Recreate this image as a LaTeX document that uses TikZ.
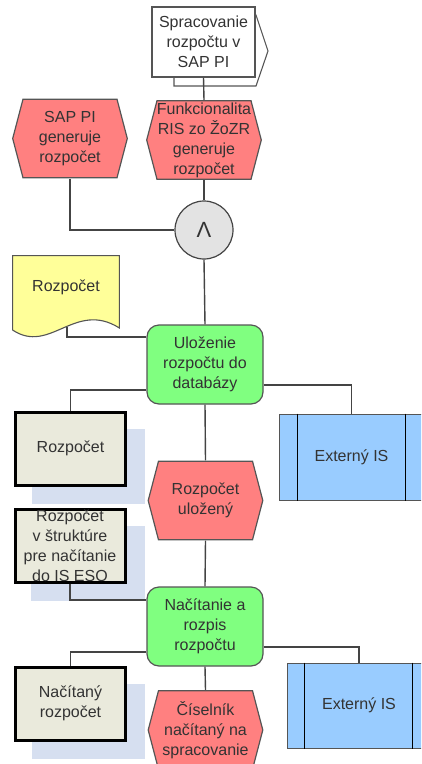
\documentclass[tikz,border=0pt]{standalone}
\usepackage{fontspec}
\setmainfont{Liberation Sans}
\usetikzlibrary{shadows,calc}
\definecolor{linec}{HTML}{444444}
\definecolor{txtc}{HTML}{333333}
\definecolor{hexred}{HTML}{FF8080}
\definecolor{hexb}{HTML}{555555}
\definecolor{greenc}{HTML}{80FF80}
\definecolor{yellowc}{HTML}{FFFF99}
\definecolor{bluec}{HTML}{99CCFF}
\definecolor{boxc}{HTML}{EAEADC}
\definecolor{shadowc}{HTML}{D6DFF0}
\definecolor{circc}{HTML}{E3E3E3}
\begin{document}
\begin{tikzpicture}[x=1pt,y=-1pt,
  font=\fontsize{16}{20}\selectfont,
  every node/.style={text=txtc, align=center, inner sep=0pt},
  conn/.style={draw=linec, line width=1.4pt},
  hexa/.style={minimum width=116pt, minimum height=80pt,
    path picture={\draw[draw=hexb, fill=hexred, line width=1.2pt]
      ([xshift=11pt,yshift=-0.7pt]path picture bounding box.north west) --
      ([xshift=-11pt,yshift=-0.7pt]path picture bounding box.north east) --
      ([xshift=-0.7pt]path picture bounding box.east) --
      ([xshift=-11pt,yshift=0.7pt]path picture bounding box.south east) --
      ([xshift=11pt,yshift=0.7pt]path picture bounding box.south west) --
      ([xshift=0.7pt]path picture bounding box.west) -- cycle;}},
  funcbox/.style={draw=hexb, fill=greenc, line width=1.2pt, rounded corners=12pt,
    minimum width=116pt, minimum height=79pt},
  infobox/.style={draw=black, fill=boxc, line width=3pt,
    minimum width=110pt, minimum height=73pt,
    drop shadow={shadow xshift=17.5pt, shadow yshift=-17.5pt, shadow scale=1.03, fill=shadowc, opacity=1}},
  extbox/.style={draw=hexb, fill=bluec, line width=1pt},
  extline/.style={draw=black, line width=1pt},
  ifcshape/.style={draw=hexb, fill=white, line width=1.1pt},
  docshape/.style={draw=hexb, fill=yellowc, line width=1.1pt}
]
\useasboundingbox (0,0) rectangle (421,764);
\clip (0,0) rectangle (421,764);

% process interface
\draw[ifcshape] (174,15) -- (256,15) -- (268,51) -- (256,86) -- (174,86) -- cycle;
\node[ifcshape, minimum width=103pt, minimum height=70pt] (ifc) at (203.5,42) {Spracovanie\\rozpočtu v\\SAP PI};

% events
\node[hexa] (h1) at (70,138.5) {SAP PI\\generuje\\rozpočet};
\node[hexa] (h2) at (204,140) {Funkcionalita\\RIS zo ŽoZR\\generuje\\rozpočet};

% AND
\node[circle, draw=linec, fill=circc, line width=1.2pt, minimum size=58pt] (and) at (204,230) {\fontsize{22}{22}\selectfont Λ};

% document
\draw[docshape] (12.6,255.6) -- (119.4,255.6) -- (119.4,328) .. controls (75,300) and (50,355) .. (12.6,330) -- cycle;
\node (doc) at (66,287) {Rozpočet};
\coordinate (docw) at (67,327);

% function 1
\node[funcbox] (g1) at (205,364.5) {Uloženie\\rozpočtu do\\databázy};

% info boxes
\node[infobox] (b1) at (70.5,448.5) {Rozpočet};
\node[infobox] (b2) at (70,545.5) {Rozpočet\\v štruktúre\\pre načítanie\\do IS ESO};
\node[infobox] (b3) at (70.5,703.5) {Načítaný\\rozpočet};

% external systems
\node[extbox, minimum width=145pt, minimum height=86pt] (e1) at (351.5,457) {Externý IS};
\draw[extline] ([xshift=19pt]e1.north west) -- ([xshift=19pt]e1.south west);
\draw[extline] ([xshift=-19pt]e1.north east) -- ([xshift=-19pt]e1.south east);
\node[extbox, minimum width=144pt, minimum height=85pt] (e2) at (359,705.5) {Externý IS};
\draw[extline] ([xshift=18pt]e2.north west) -- ([xshift=18pt]e2.south west);
\draw[extline] ([xshift=-19pt]e2.north east) -- ([xshift=-19pt]e2.south east);

% events 2
\node[hexa] (h3) at (205.5,500.5) {Rozpočet\\uložený};
\node[funcbox] (g2) at (205,626.5) {Načítanie a\\rozpis\\rozpočtu};
\node[hexa] (h4) at (205.5,730) {Číselník\\načítaný na\\spracovanie};

% connectors
\draw[conn] (ifc.south) -- (h2.north);
\draw[conn] (h1.south) |- (and.west);
\draw[conn] (h2.south) -- (and.north);
\draw[conn] (and.south) -- (g1.north);
\draw[conn] (docw) |- ([yshift=27.5pt]g1.west);
\draw[conn] ([yshift=-25.5pt]g1.west) -| (b1.north);
\draw[conn] ([yshift=-20.5pt]g1.east) -| (e1.north);
\draw[conn] (g1.south) -- (h3.north);
\draw[conn] (b2.south) |- ([yshift=26.5pt]g2.west);
\draw[conn] (h3.south) -- (g2.north);
\draw[conn] ([yshift=-25.5pt]g2.west) -| (b3.north);
\draw[conn] ([yshift=-20.5pt]g2.east) -| (e2.north);
\draw[conn] (g2.south) -- (h4.north);
\end{tikzpicture}
\end{document}
